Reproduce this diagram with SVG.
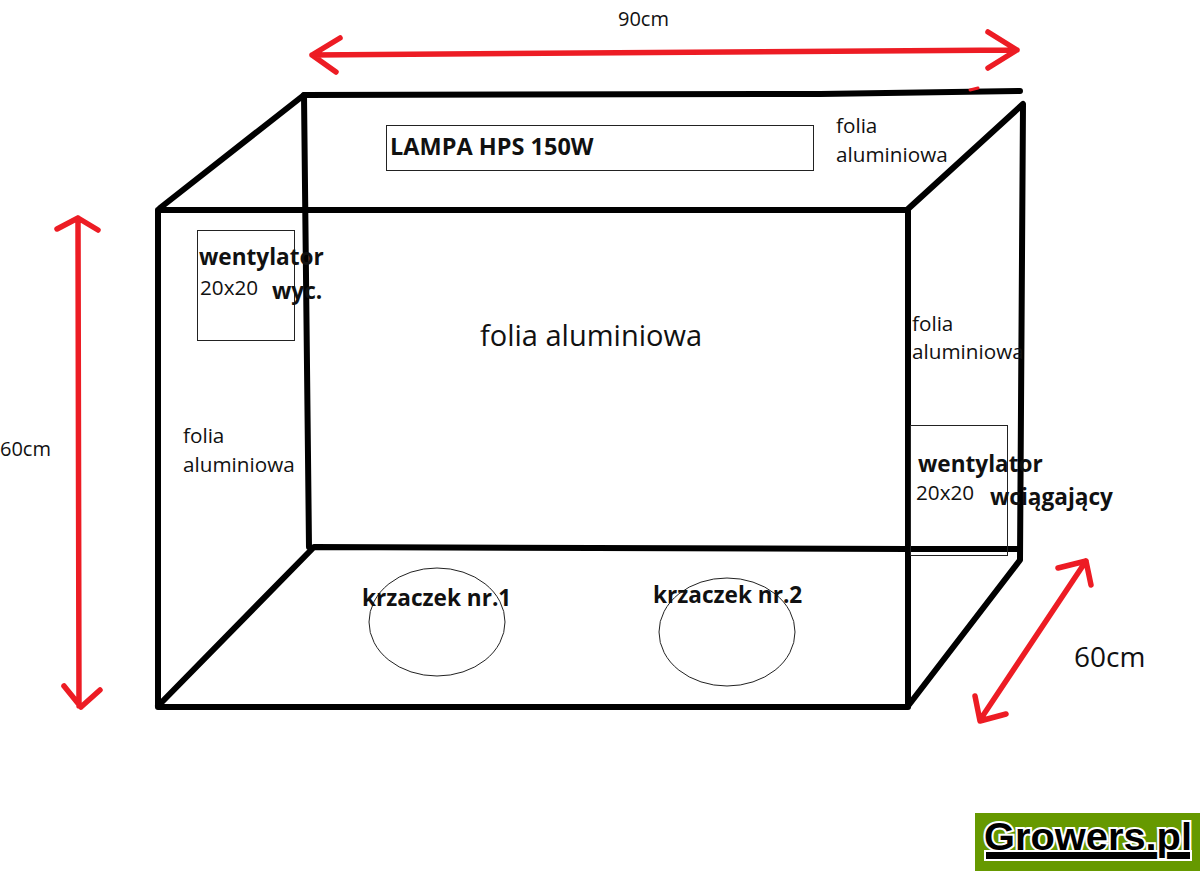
<svg xmlns="http://www.w3.org/2000/svg" width="1200" height="871" viewBox="0 0 1200 871">
<style>
.b{fill:none;stroke:#000;stroke-width:6;stroke-linecap:round;stroke-linejoin:round}
.r{fill:none;stroke:#ed1c24;stroke-width:5.500;stroke-linecap:round;stroke-linejoin:round}
.t{fill:none;stroke:#222;stroke-width:1}
text{font-family:"Open Sans","Noto Sans","DejaVu Sans",sans-serif;fill:#111}
.s{font-size:20.700px}
.h{font-size:22.600px;font-weight:700}
</style>
<rect width="1200" height="871" fill="#fff"/>
<g id="connectors">
<path class="b" d="M158 210H908V707H158V210"/>
<path class="b" d="M160 208L304 95L820 94L1020 91"/>
<path class="b" d="M304 95L309 547"/>
<path class="b" d="M158 706L314 547L908 549H1020"/>
<path class="b" d="M908 209L1023 104L1020 560L908 706"/>
<path class="r" d="M312 55L1017 50M340 38L312 55L336 72M988 32L1017 50L988 68"/>
<path class="r" d="M78 218L79 706M57 229L78 218L98 230M64 686L81 707L100 690"/>
<path class="r" d="M1086 561L980 720M1058 568L1086 561L1091 585M975 696L980 721L1006 714"/>
<path d="M970 90L978 88" fill="none" stroke="#ed1c24" stroke-width="3" stroke-linecap="round"/>
</g>
<g id="lampa"><rect class="t" x="386.500" y="125.500" width="427" height="45"/><text x="390" y="155" font-size="23.500" font-weight="700">LAMPA HPS 150W</text></g>
<g id="wentylator-wyc"><rect class="t" x="197.500" y="230.500" width="97" height="110"/><text class="h" x="199" y="265">wentylator</text><text class="s" x="200" y="295">20x20</text><text class="h" x="272" y="299">wyc.</text></g>
<g id="wentylator-wciag"><rect class="t" x="910.500" y="425.500" width="97" height="130"/><text class="h" x="918" y="472">wentylator</text><text class="s" x="916" y="500">20x20</text><text class="h" x="990" y="505">wciągający</text></g>
<g id="krzaczek-1"><ellipse class="t" cx="437" cy="622" rx="68" ry="54"/><text class="h" x="362" y="606">krzaczek nr.1</text></g>
<g id="krzaczek-2"><ellipse class="t" cx="727" cy="632" rx="68" ry="54"/><text class="h" x="653" y="603">krzaczek nr.2</text></g>
<g id="labels">
<text x="618" y="26" font-size="20">90cm</text>
<text x="0" y="456" font-size="20">60cm</text>
<text x="1074" y="667" font-size="28">60cm</text>
<text x="480" y="346" font-size="29">folia aluminiowa</text>
<text class="s" x="836" y="133">folia</text><text class="s" x="836" y="162">aluminiowa</text>
<text class="s" x="912" y="331">folia</text><text class="s" x="912" y="359">aluminiowa</text>
<text class="s" x="183" y="443">folia</text><text class="s" x="183" y="472">aluminiowa</text>
</g>
<g id="logo"><rect x="975" y="813" width="225" height="58" fill="#669900"/>
<rect x="985" y="851" width="206" height="9" fill="#000" stroke="#fff" stroke-width="2"/>
<text x="984" y="850" font-size="38" font-weight="700" style="font-family:'Liberation Sans',Arial,sans-serif;fill:#000;stroke:#fff;stroke-width:4;paint-order:stroke" textLength="208" lengthAdjust="spacingAndGlyphs">Growers.pl</text></g>
</svg>
